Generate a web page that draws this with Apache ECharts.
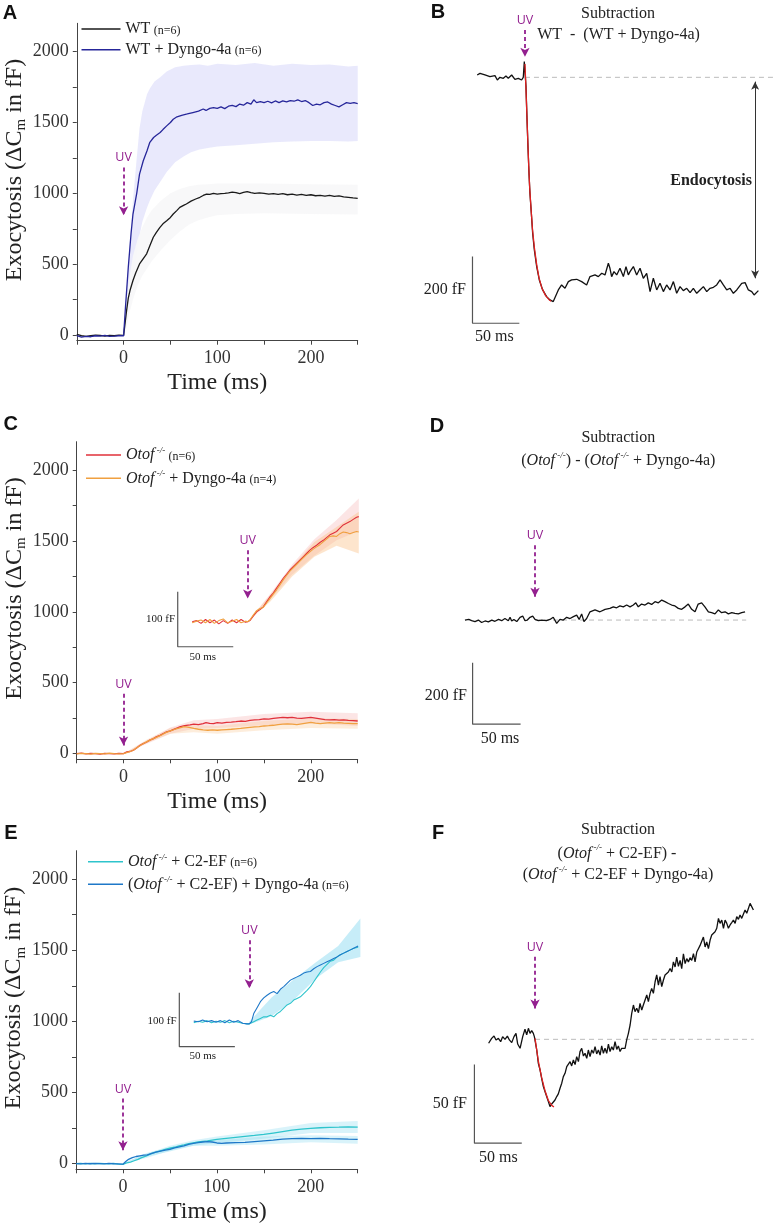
<!DOCTYPE html>
<html><head><meta charset="utf-8">
<script src="https://cdn.jsdelivr.net/npm/echarts@6/dist/echarts.min.js"></script>
<style>html,body{margin:0;padding:0;background:#fff}#c{width:777px;height:1225px}</style>
</head><body><div id="c"></div>
<script>
// ================= DATA =================
// Axis ticks / labels for the main panels (A, C, E)
const timeTicks = [-50, 0, 50, 100, 150, 200, 250];
const timeLabels = [0, 100, 200];
const capTicks = [0, 250, 500, 750, 1000, 1250, 1500, 1750, 2000];
const capLabels = [0, 500, 1000, 1500, 2000];

// Panel A : [time ms, ΔCm fF]
const wtMean = [[-50,5],[-45,-5],[-40,-10],[-35,-5],[-30,0],[-25,-3],[-20,-8],[-15,-2],[-10,-5],[-5,0],[0,-3],[1.5,80],[3.2,174],[5,260],[6.8,314],[10,385],[13,440],[17,502],[21,540],[24.6,573],[28,630],[31.7,690],[35,725],[38.8,760],[42,785],[46,807],[50,830],[53,854],[57,880],[60,901],[64,915],[67,925],[72,945],[77,960],[81.5,972],[85,985],[88.6,995],[92,992],[96,1000],[100,995],[104,998],[108,1000],[112,1003],[116,1008],[120,1005],[124,998],[128,1006],[132,1012],[136,1005],[140,1000],[145,1003],[150,1000],[155,995],[160,998],[165,993],[170,998],[175,990],[180,995],[185,988],[190,992],[195,985],[200,990],[205,983],[210,985],[215,980],[220,985],[225,978],[230,982],[235,975],[240,972],[245,968],[250,965]];
const wtDyngoMean = [[-50,-5],[-45,-15],[-40,-10],[-35,-12],[-30,-5],[-25,-8],[-20,-3],[-15,-10],[-10,-8],[-5,-5],[0,-5],[2,200],[5,479],[8,720],[10,854],[14,1000],[17,1136],[21,1230],[25,1300],[28,1360],[32,1394],[35,1410],[39,1429],[42,1450],[46,1476],[50,1500],[53,1523],[57,1540],[62,1551],[68,1560],[74,1570],[80,1580],[85,1595],[88,1585],[92,1600],[96,1605],[100,1600],[104,1610],[108,1598],[112,1615],[116,1620],[120,1612],[124,1630],[128,1622],[132,1640],[136,1630],[139,1660],[142,1640],[146,1648],[150,1640],[154,1650],[158,1638],[162,1652],[166,1640],[170,1652],[174,1645],[178,1655],[182,1650],[186,1660],[190,1648],[194,1655],[198,1640],[202,1620],[206,1630],[210,1625],[214,1640],[218,1645],[222,1630],[226,1620],[230,1610],[234,1625],[238,1640],[242,1635],[246,1640],[250,1633]];
const wtDyngoBandT  = [0,3,6,10,14,17,20,25,28,33,39,46,55,64,72,81,90,100,120,140,160,180,200,220,240,250];
const wtDyngoBandHi = [0,300,600,950,1250,1460,1580,1700,1740,1790,1820,1860,1890,1900,1905,1910,1900,1915,1905,1920,1900,1915,1905,1910,1895,1900];
const wtDyngoBandLo = [0,80,180,350,550,700,800,900,950,1020,1080,1150,1220,1260,1290,1310,1320,1330,1340,1350,1360,1365,1370,1370,1365,1370];
const wtBandT  = [0,3,6,10,15,20,25,30,40,50,60,70,80,90,100,120,150,200,250];
const wtBandHi = [0,250,400,560,680,760,830,880,950,1000,1030,1050,1060,1065,1070,1070,1070,1065,1060];
const wtBandLo = [0,50,150,250,350,420,470,520,600,670,730,780,810,830,845,855,860,855,850];

// Panel B : subtraction WT - (WT + Dyngo-4a)
const subB = [[-51,7],[-48,12],[-42.7,7],[-37.4,2],[-32,5],[-29.5,-8],[-26.7,0],[-23.1,-3],[-20.3,4],[-17.8,-3],[-14.2,7],[-10.7,-6],[-7.1,-3],[-3.6,-8],[-1.8,0],[-0.7,47],[0,47],[1.1,-28],[2.1,-118],[3.2,-208],[4.3,-288],[5.3,-348],[6.8,-408],[8.2,-468],[10,-518],[12.5,-568],[15.3,-608],[18.9,-638],[23.1,-658],[26.7,-668],[28.5,-663],[30.2,-673],[32,-668],[35.6,-638],[39.1,-623],[42.7,-633],[46.3,-613],[49.8,-608],[55.2,-606],[60.5,-613],[65.8,-623],[69.4,-598],[74.7,-593],[78.3,-598],[81.9,-588],[85.4,-593],[89,-558],[90.7,-573],[92.5,-598],[95,-583],[97.9,-593],[101.4,-573],[105,-598],[107.8,-568],[110.3,-593],[112.1,-583],[115.7,-568],[119.2,-593],[122.8,-573],[126.3,-603],[129.9,-588],[133.5,-643],[137,-603],[140.6,-638],[144.1,-618],[147.7,-643],[151.2,-623],[154.8,-638],[158.4,-613],[161.9,-648],[165.5,-628],[169,-640],[172.6,-633],[176.2,-646],[179.7,-633],[183.3,-648],[186.8,-638],[190.4,-628],[194,-643],[197.5,-633],[201.1,-630],[204.6,-623],[208.2,-608],[211.7,-623],[215.3,-638],[218.9,-633],[222.4,-648],[226,-638],[231.3,-618],[234.9,-616],[238.4,-638],[242,-643],[244.5,-653],[249.1,-640]];
const fitB = [[0,40],[1,-30],[2,-110],[3,-190],[4,-265],[5,-330],[6.5,-395],[8,-455],[10,-510],[12.5,-562],[15,-602],[18,-632],[22,-655],[26,-668],[28,-672]];
const baseB = [[0,0],[268,0]];

// Panel C : Otof-/- and Otof-/- + Dyngo-4a
const otofMean = [[-50,0],[-45,3],[-40,-2],[-35,2],[-30,0],[-25,-3],[-20,2],[-15,0],[-10,-2],[-5,2],[0,0],[3.5,12],[7,15],[10.6,24],[14,40],[17.7,59],[21,70],[24.8,82],[28,95],[32,106],[35,118],[39,129],[42,140],[46,153],[50,160],[53,169],[57,180],[60,188],[64,195],[67,200],[71,203],[75,208],[80,205],[85,212],[88,218],[92,214],[96,212],[100,218],[105,215],[110,220],[115,222],[120,225],[125,230],[130,228],[135,235],[140,238],[145,240],[150,245],[155,243],[160,248],[165,252],[170,255],[175,253],[180,255],[185,250],[190,248],[195,252],[200,255],[205,250],[210,245],[215,240],[220,238],[225,240],[230,236],[235,238],[240,235],[245,233],[250,230]];
const otofDyngoMean = [[-50,-2],[-45,2],[-40,0],[-35,-3],[-30,2],[-25,0],[-20,-2],[-15,3],[-10,0],[-5,-2],[0,0],[5,10],[10,22],[15,45],[20,66],[25,85],[30,100],[35,115],[40,130],[45,148],[50,160],[55,172],[60,182],[65,190],[70,185],[75,178],[80,172],[85,168],[90,165],[95,168],[100,165],[105,168],[110,170],[115,172],[120,175],[125,178],[130,182],[135,185],[140,188],[145,190],[150,195],[155,197],[160,200],[165,205],[170,208],[175,210],[180,208],[185,205],[190,210],[195,215],[200,220],[205,215],[210,212],[215,215],[220,218],[225,215],[230,218],[235,215],[240,214],[245,212],[250,212]];
const otofBandT  = [0,25,50,75,100,150,200,250];
const otofBandHi = [0,95,185,235,245,280,295,285];
const otofBandLo = [0,70,140,175,180,200,215,195];
const otofDyngoBandHi = [0,100,180,200,195,230,250,245];
const otofDyngoBandLo = [0,75,140,150,140,165,180,175];
// Panel C inset (first 100 ms, expanded)
const otofInset = [[-50,0],[-46,2],[-42,-3],[-38,4],[-34,-2],[-30,3],[-26,-4],[-22,2],[-18,-3],[-14,3],[-10,-2],[-6,4],[-2,-1],[0,0],[2,2],[5,10],[8,18],[11,22],[14,27],[17,36],[20,45],[23,52],[26,61],[29,70],[32,79],[35,86],[38,94],[41,100],[44,106],[47,112],[50,118],[53,124],[56,130],[59,135],[62,139],[65,144],[68,148],[71,153],[74,158],[77,161],[80,164],[83,170],[86,176],[89,179],[92,182],[95,186],[98,190],[100,191]];
const otofDyngoInset = [[-50,-2],[-46,1],[-42,3],[-38,-2],[-34,4],[-30,-3],[-26,2],[-22,5],[-18,-2],[-14,1],[-10,4],[-6,-2],[-2,1],[0,0],[2,3],[5,12],[8,20],[11,24],[14,26],[17,34],[20,42],[23,50],[26,58],[29,67],[32,76],[35,84],[38,92],[41,98],[44,104],[47,110],[50,116],[53,122],[56,127],[59,132],[62,136],[65,140],[68,145],[71,150],[74,155],[77,156],[80,155],[83,160],[86,163],[89,162],[92,160],[95,162],[98,164],[100,163]];
const insetBandT = [0,20,40,60,80,100];
const otofInsetBandHi = [0,50,104,150,185,224];
const otofInsetBandLo = [0,40,86,120,148,165];
const otofDyngoInsetBandHi = [0,48,100,145,172,200];
const otofDyngoInsetBandLo = [0,36,82,118,138,124];

// Panel D : subtraction Otof-/- - (Otof-/- + Dyngo-4a)
const subD = [[-73,0],[-69,2],[-66,-2],[-62.5,-5],[-59,0],[-55.6,-8],[-52,-3],[-48.6,-6],[-45,0],[-41.7,-4],[-38,2],[-34.7,-2],[-31.3,5],[-27.8,-2],[-26,9],[-24.3,-3],[-22,2],[-19,-5],[-15.6,9],[-12.8,13],[-10.4,-2],[-8,0],[-5.2,9],[-2.4,13],[0,2],[3.5,-2],[7,0],[12,-2],[15.6,2],[19,9],[22.6,-11],[26,2],[29.5,0],[33,9],[36.5,5],[40,11],[43.4,16],[46,2],[48.6,20],[51,-5],[53.8,5],[57.3,27],[62.5,33],[67.7,27],[73,35],[78,38],[81.6,43],[85,40],[88.5,46],[92,43],[95.5,49],[99,43],[102.4,49],[105,56],[107.6,43],[111,52],[114.6,49],[118,56],[121.5,51],[125,60],[128.5,56],[132,65],[135.4,60],[139,54],[142.4,49],[145.8,46],[149.3,38],[152.8,35],[156.3,43],[159.7,52],[163.2,35],[166.7,27],[170,52],[173.6,56],[177,43],[180.6,27],[184,24],[187.5,20],[191,33],[194.4,24],[198,27],[201.4,20],[205,24],[208.3,22],[211.8,20],[215.3,24],[218.8,27]];
const baseD = [[0,0],[220,0]];

// Panel E : Otof-/- + C2-EF and (Otof-/- + C2-EF) + Dyngo-4a
const c2Mean = [[-50,0],[-45,2],[-40,-2],[-35,1],[-30,-1],[-25,2],[-20,0],[-15,-2],[-10,1],[-5,-3],[0,-5],[4,5],[8,10],[12,20],[16,30],[20,42],[25,55],[30,70],[35,80],[40,90],[45,100],[50,108],[55,115],[60,125],[65,132],[70,140],[75,146],[80,152],[85,156],[90,160],[95,165],[100,170],[110,178],[120,185],[130,192],[140,198],[150,205],[160,215],[170,225],[180,235],[190,242],[200,248],[210,252],[220,255],[230,256],[240,258],[250,256]];
const c2DyngoMean = [[-50,0],[-45,-2],[-40,1],[-35,-1],[-30,2],[-25,0],[-20,-2],[-15,1],[-10,-1],[-5,-2],[0,-4],[3,15],[6,30],[10,42],[14,50],[18,55],[22,60],[26,62],[30,70],[35,80],[40,88],[45,95],[50,100],[55,110],[60,118],[65,125],[70,135],[75,142],[80,148],[85,152],[90,155],[95,152],[100,145],[105,142],[110,145],[120,148],[130,150],[140,155],[150,160],[160,165],[170,172],[180,176],[190,178],[200,176],[210,177],[220,175],[230,174],[240,172],[250,171]];
const c2BandT  = [0,25,50,75,100,150,200,250];
const c2BandHi = [0,70,125,165,190,235,285,300];
const c2BandLo = [0,40,90,125,145,175,215,215];
const c2DyngoBandHi = [0,75,115,150,165,190,200,195];
const c2DyngoBandLo = [0,50,85,125,125,135,150,140];
// Panel E inset
const c2DyngoInset = [[-50,1],[-46,0],[-42,3],[-38,0],[-34,2],[-30,-1],[-26,2],[-22,-2],[-18,3],[-14,-1],[-10,2],[-6,-3],[-2,-4],[0,-4],[2,0],[4,15],[7,26],[10,37],[13,44],[16,49],[19,53],[22,56],[25,52],[28,60],[31,65],[34,71],[37,77],[40,80],[43,83],[46,86],[49,90],[52,92],[55,93],[58,98],[61,102],[64,105],[67,108],[70,111],[73,114],[76,117],[79,120],[82,124],[85,127],[88,130],[91,133],[94,136],[98,140]];
const c2Inset = [[-50,-2],[-46,1],[-42,-1],[-38,2],[-34,-2],[-30,1],[-26,-1],[-22,2],[-18,-2],[-14,1],[-10,-1],[-6,-3],[-2,-4],[0,-4],[4,0],[7,3],[10,6],[13,9],[16,9],[19,12],[22,9],[25,15],[28,19],[31,25],[34,31],[37,34],[40,40],[43,43],[46,46],[49,52],[52,58],[55,65],[58,74],[61,83],[64,92],[67,100],[70,106],[73,112],[76,114],[79,120],[82,124],[85,127],[88,130],[91,133],[94,136],[98,138]];
const c2InsetBandHi = [0,45,78,110,140,191];
const c2InsetBandLo = [-5,10,40,80,110,120];

// Panel F : subtraction (Otof-/- + C2-EF) - (Otof-/- + C2-EF + Dyngo-4a)
const subF = [[-49,-2.5],[-47.5,-1.5],[-45.8,0.6],[-43.3,2.1],[-41.2,-0.4],[-38.7,0.6],[-36.3,-1.5],[-34.2,1.7],[-31.7,0],[-29.2,2.1],[-27.1,-0.4],[-24.6,-2.1],[-22.2,1.7],[-20.1,3.8],[-18.3,-3.0],[-15.8,-5.7],[-13,1.7],[-10.6,6.4],[-8.8,2.8],[-7,7.0],[-5.3,3.8],[-3.5,5.5],[-1.8,3.8],[-0.7,1.7],[0,0.6],[1.8,-6.8],[3.5,-15.3],[5.3,-19.5],[7,-24.8],[8.8,-30.1],[10.6,-33.3],[12.3,-36.4],[14.1,-39.6],[15.8,-42.8],[17.6,-41.1],[19.4,-41.7],[21.1,-38.6],[22.9,-36.4],[24.6,-34.7],[26.4,-31.1],[28.2,-27.9],[29.9,-23.7],[31.7,-21.6],[33.5,-17.4],[35.2,-18.4],[37,-14.2],[38.7,-16.9],[40.5,-13.1],[42.3,-16.1],[44,-11.0],[45.8,-14.2],[47.5,-7.8],[49.3,-5.7],[51.1,-10.6],[52.8,-8.9],[54.6,-12.1],[56.3,-6.8],[58.1,-11.0],[59.9,-6.8],[61.6,-8.9],[63.4,-4.7],[65.1,-9.3],[66.9,-6.8],[68.7,-10.0],[70.4,-4.2],[72.2,-8.9],[73.9,-5.7],[75.7,-8.9],[77.5,-3.0],[79.2,-7.8],[81,-4.7],[82.7,-6.8],[84.5,-1.5],[86.3,-6.4],[88,-4.2],[89.8,-7.8],[91.5,-5.7],[93.3,-6.4],[95.1,-5.7],[96.8,-0.4],[98.6,3.8],[100.4,9.1],[102.1,16.5],[103.9,21.8],[105.6,17.6],[107.4,19.7],[109.2,16.9],[110.9,22.9],[112.7,18.6],[114.4,21.8],[116.2,25.0],[118,28.2],[119.7,23.9],[121.5,29.2],[123.2,32.4],[125,29.2],[126.8,36.6],[128.5,40.9],[130.3,34.5],[132,39.8],[133.8,33.5],[135.6,37.7],[137.3,40.9],[139.1,40.0],[140.8,42.8],[142.6,45.0],[144.4,42.8],[146.1,49.2],[147.9,46.0],[149.6,52.3],[151.4,46.4],[153.2,50.2],[154.9,44.9],[156.7,54.4],[158.5,48.1],[160.2,51.3],[162,49.2],[163.7,51.9],[165.5,50.2],[167.3,54.4],[169,49.2],[170.8,55.5],[172.5,54.4],[174.3,59.7],[176.1,60.4],[177.8,65.0],[179.6,58.7],[181.3,61.9],[183.1,57.6],[184.9,63.1],[186.6,66.3],[188.4,67.4],[190.1,68.4],[191.9,70.6],[193.7,76.9],[195.4,73.7],[197.2,75.8],[199,70.6],[200.7,75.8],[202.5,73.7],[204.2,70.6],[206,72.7],[207.7,74.2],[209.5,75.8],[211.3,73.7],[213,78.0],[214.8,76.3],[216.5,79.0],[218.3,76.9],[220.1,78.0],[221.8,82.2],[223.6,80.1],[225.4,83.3],[227.1,86.4],[228.9,87.5],[230.6,82.2]];
const fitF = [[0,0.6],[3.5,-13.8],[7,-24.4],[10.6,-32.8],[14.1,-38.9],[17.6,-42.0],[20,-43]];
const baseF = [[0,0],[231,0]];

// Scale bars: [time, fF] polyline (vertical then horizontal)
const scaleB = [[-56,-538],[-56,-738],[-6,-738]];
const scaleD = [[-65,-139],[-65,-339],[-15,-339]];
const scaleF = [[-64,-16],[-64,-66],[-14,-66]];
const scaleCi = [[-63,54.5],[-63,-45.5],[-13,-45.5]];
const scaleEi = [[-63,53.7],[-63,-46.3],[-13,-46.3]];

// UV stimulus arrows: [time, arrow top, arrow tip]
const uvA = [0,1183,845], uvB = [0,142,62], uvC = [0,423,58], uvCi = [0,130,42];
const uvD = [0,244,76], uvE = [0,458,94], uvEi = [0,151,62], uvF = [0,52.5,19.6];
// Endocytosis double arrow in B: [time, top, bottom]
const endoB = [245.6,-13,-603];

// ================= STYLE =================
const SERIF = 'Liberation Serif';
const PURPLE = '#93208f';
const AX = '#444';
const C_WT = '#1a1a1a', C_WTD = '#26269a', C_OT = '#e0303a', C_OTD = '#f0a040', C_C2 = '#2ec4cc', C_C2D = '#1e78c8';

const chart = echarts.init(document.getElementById('c'), null, {renderer: 'canvas'});

const gridRects = [
  {left: 76.8, top: 23.3, width: 280.9, height: 317.4},   // 0 A
  {left: 450.0, top: 4.0, width: 326.1, height: 326.6},   // 1 B
  {left: 76.7, top: 441.7, width: 281, height: 317.6},    // 2 C
  {left: 175.5, top: 495.2, width: 185.5, height: 154},   // 3 C inset
  {left: 448.6, top: 521.8, width: 307.2, height: 208.8}, // 4 D
  {left: 76, top: 850.7, width: 281.7, height: 318.6},    // 5 E
  {left: 177.1, top: 897.5, width: 185.5, height: 151.2}, // 6 E inset
  {left: 449.8, top: 882.0, width: 312.5, height: 275.3}  // 7 F
];
const grid = gridRects.map(r => Object.assign({containLabel: false, outerBoundsMode: 'none', show: false}, r));

const yName = '{a|Exocytosis (ΔC}{s|m}{a| in fF)}';
function mainX(gi) {
  return {gridIndex: gi, type: 'value', min: -50, max: 250,
    axisLine: {show: true, onZero: false, lineStyle: {color: AX, width: 1}},
    axisTick: {show: true, inside: false, length: 4, customValues: timeTicks, lineStyle: {color: AX}},
    axisLabel: {show: true, customValues: timeLabels, formatter: v => String(v), margin: 9, color: '#333', fontFamily: SERIF, fontSize: 18},
    splitLine: {show: false},
    name: 'Time (ms)', nameLocation: 'middle', nameGap: 30,
    nameTextStyle: {fontFamily: SERIF, fontSize: 24, color: '#222'}};
}
function mainY(gi) {
  return {gridIndex: gi, type: 'value', min: -40, max: 2200,
    axisLine: {show: true, onZero: false, lineStyle: {color: AX, width: 1}},
    axisTick: {show: true, inside: false, length: 4, customValues: capTicks, lineStyle: {color: AX}},
    axisLabel: {show: true, customValues: capLabels, formatter: v => String(v), margin: 8, color: '#333', fontFamily: SERIF, fontSize: 18},
    splitLine: {show: false},
    name: yName, nameLocation: 'middle', nameGap: 46, nameRotate: 90,
    nameTextStyle: {padding: [0, 0, 0, 24], rich: {
      a: {fontFamily: SERIF, fontSize: 24, color: '#222', lineHeight: 28},
      s: {fontFamily: SERIF, fontSize: 15, color: '#222', lineHeight: 14, verticalAlign: 'bottom'}}}};
}
function hidX(gi, min, max) { return {gridIndex: gi, type: 'value', min: min, max: max, show: false, splitLine: {show: false}}; }
function hidY(gi, min, max) { return {gridIndex: gi, type: 'value', min: min, max: max, show: false, splitLine: {show: false}}; }

const xAxis = [mainX(0), hidX(1, -80, 268), mainX(2), hidX(3, -65, 102), hidX(4, -90, 230), mainX(5), hidX(6, -65, 102), hidX(7, -90, 240)];
const yAxis = [mainY(0), hidY(1, -760, 220), mainY(2), hidY(3, -50, 230), hidY(4, -360, 320), mainY(5), hidY(6, -50, 230), hidY(7, -75, 100)];

function line(gi, name, data, color, width, extra) {
  return Object.assign({type: 'line', name: name, xAxisIndex: gi, yAxisIndex: gi, data: data,
    showSymbol: false, symbol: 'none', smooth: false, animation: false, silent: true, z: 3,
    lineStyle: {color: color, width: width}, itemStyle: {color: color}}, extra || {});
}
function band(gi, t, lo, hi, color) {
  return {type: 'custom', xAxisIndex: gi, yAxisIndex: gi, silent: true, animation: false, z: 1,
    data: [[t[0], lo[0]]],
    renderItem: function (params, api) {
      const pts = [];
      for (let i = 0; i < t.length; i++) pts.push(api.coord([t[i], hi[i]]));
      for (let i = t.length - 1; i >= 0; i--) pts.push(api.coord([t[i], lo[i]]));
      return {type: 'polygon', shape: {points: pts}, style: {fill: color}};
    }};
}
function uv(a) {
  return {silent: true, animation: false, symbol: ['none', 'arrow'], symbolSize: [7, 9],
    lineStyle: {color: PURPLE, width: 1.8, type: [4, 3]},
    label: {show: true, position: 'start', formatter: 'UV', color: PURPLE, fontFamily: 'Open Sans', fontSize: 12.5, distance: 3},
    emphasis: {disabled: true},
    data: [[{coord: [a[0], a[1]]}, {coord: [a[0], a[2]]}]]};
}
function scaleBar(gi, data) { return line(gi, 'scale' + gi, data, '#555', 1.2); }
function dashed(gi, data, extra) {
  return line(gi, 'base' + gi, data, '#bbb', 1, Object.assign({lineStyle: {color: '#bbb', width: 1, type: [5, 4]}, z: 2}, extra || {}));
}

const series = [
  // A
  band(0, wtDyngoBandT, wtDyngoBandLo, wtDyngoBandHi, 'rgba(232,232,252,0.95)'),
  band(0, wtBandT, wtBandLo, wtBandHi, 'rgba(247,247,248,0.92)'),
  line(0, 'WT', wtMean, C_WT, 1.3),
  line(0, 'WT + Dyngo-4a', wtDyngoMean, C_WTD, 1.3, {markLine: uv(uvA)}),
  // B
  dashed(1, baseB, {markLine: {silent: true, animation: false, symbol: ['arrow', 'arrow'], symbolSize: [6, 8],
    lineStyle: {color: '#333', width: 1, type: 'solid'}, label: {show: false}, emphasis: {disabled: true},
    data: [[{coord: [endoB[0], endoB[1]]}, {coord: [endoB[0], endoB[2]]}]]}}),
  line(1, 'subB', subB, '#111', 1.3, {markLine: uv(uvB)}),
  line(1, 'fitB', fitB, '#e02020', 1.3),
  scaleBar(1, scaleB),
  // C
  band(2, otofBandT, otofBandLo, otofBandHi, 'rgba(245,170,170,0.3)'),
  band(2, otofBandT, otofDyngoBandLo, otofDyngoBandHi, 'rgba(250,195,140,0.3)'),
  line(2, 'Otof', otofMean, C_OT, 1.3),
  line(2, 'Otof + Dyngo-4a', otofDyngoMean, C_OTD, 1.3, {markLine: uv(uvC)}),
  // C inset
  band(3, insetBandT, otofInsetBandLo, otofInsetBandHi, 'rgba(245,170,170,0.3)'),
  band(3, insetBandT, otofDyngoInsetBandLo, otofDyngoInsetBandHi, 'rgba(250,190,130,0.4)'),
  line(3, 'Otof inset', otofInset, C_OT, 1.1),
  line(3, 'Otof + Dyngo-4a inset', otofDyngoInset, C_OTD, 1.1, {markLine: uv(uvCi)}),
  scaleBar(3, scaleCi),
  // D
  dashed(4, baseD),
  line(4, 'subD', subD, '#111', 1.3, {markLine: uv(uvD)}),
  scaleBar(4, scaleD),
  // E
  band(5, c2BandT, c2BandLo, c2BandHi, 'rgba(130,215,240,0.3)'),
  band(5, c2BandT, c2DyngoBandLo, c2DyngoBandHi, 'rgba(130,215,240,0.3)'),
  line(5, 'Otof + C2-EF', c2Mean, C_C2, 1.3),
  line(5, '(Otof + C2-EF) + Dyngo-4a', c2DyngoMean, C_C2D, 1.3, {markLine: uv(uvE)}),
  // E inset
  band(6, insetBandT, c2InsetBandLo, c2InsetBandHi, 'rgba(130,215,240,0.45)'),
  line(6, 'C2 inset', c2Inset, C_C2, 1.1),
  line(6, 'C2 Dyngo inset', c2DyngoInset, C_C2D, 1.1, {markLine: uv(uvEi)}),
  scaleBar(6, scaleEi),
  // F
  dashed(7, baseF),
  line(7, 'subF', subF, '#111', 1.3, {markLine: uv(uvF)}),
  line(7, 'fitF', fitF, '#e02020', 1.3),
  scaleBar(7, scaleF)
];

// ---- legends ----
const legendRich = {
  t: {fontFamily: SERIF, fontSize: 16, color: '#222', lineHeight: 18},
  i: {fontFamily: SERIF, fontSize: 16, fontStyle: 'italic', color: '#222', lineHeight: 18},
  s: {fontFamily: SERIF, fontSize: 9, fontStyle: 'italic', color: '#222', lineHeight: 9, verticalAlign: 'top'},
  n: {fontFamily: SERIF, fontSize: 12, color: '#222', lineHeight: 15, padding: [3, 0, 0, 0]}
};
const legendText = {
  'WT': '{t|WT} {n|(n=6)}',
  'WT + Dyngo-4a': '{t|WT + Dyngo-4a} {n|(n=6)}',
  'Otof': '{i|Otof}{s| -/-} {n|(n=6)}',
  'Otof + Dyngo-4a': '{i|Otof}{s| -/-}{t| + Dyngo-4a} {n|(n=4)}',
  'Otof + C2-EF': '{i|Otof}{s| -/-}{t| + C2-EF} {n|(n=6)}',
  '(Otof + C2-EF) + Dyngo-4a': '{t|(}{i|Otof}{s| -/-}{t| + C2-EF) + Dyngo-4a} {n|(n=6)}'
};
function legend(names, left, top, w, gap) {
  return {show: true, orient: 'vertical', left: left, top: top, itemWidth: w, itemHeight: 1.6, itemGap: gap,
    icon: 'rect', selectedMode: false, padding: 0, data: names,
    formatter: n => legendText[n], textStyle: {rich: legendRich, lineHeight: 18}};
}
const legends = [
  legend(['WT', 'WT + Dyngo-4a'], 81.5, 20, 39, 2.7),
  legend(['Otof', 'Otof + Dyngo-4a'], 86, 446, 35, 5.3),
  legend(['Otof + C2-EF', '(Otof + C2-EF) + Dyngo-4a'], 88, 852.7, 35, 4.6)
];

// ---- text annotations ----
const tRich = {
  t: {fontFamily: SERIF, fontSize: 16, color: '#222', lineHeight: 20},
  i: {fontFamily: SERIF, fontSize: 16, fontStyle: 'italic', color: '#222', lineHeight: 20},
  s: {fontFamily: SERIF, fontSize: 9, fontStyle: 'italic', color: '#222', lineHeight: 10, verticalAlign: 'top'},
  b: {fontFamily: SERIF, fontSize: 16, fontWeight: 'bold', color: '#111', lineHeight: 20},
  sm: {fontFamily: SERIF, fontSize: 11, color: '#222', lineHeight: 14}
};
function txt(x, y, text, align) {
  return {type: 'text', x: x, y: y, silent: true, z: 100,
    style: {text: text, rich: tRich, align: align || 'center', verticalAlign: 'middle',
      textAlign: align || 'center', textVerticalAlign: 'middle', fill: '#222'}};
}
function letter(x, y, s) {
  return {type: 'text', x: x, y: y, silent: true, z: 100,
    style: {text: s, fontFamily: 'Liberation Sans', fontWeight: 'bold', fontSize: 20, fill: '#111',
      align: 'center', verticalAlign: 'middle', textAlign: 'center', textVerticalAlign: 'middle'}};
}
const graphics = [
  letter(10, 13.7, 'A'), letter(438, 12.5, 'B'), letter(10.8, 424.5, 'C'),
  letter(437, 426, 'D'), letter(10.8, 833, 'E'), letter(438, 833, 'F'),
  // B
  txt(618, 13.3, '{t|Subtraction}'),
  txt(618.5, 34.3, '{t|WT  -  (WT + Dyngo-4a)}'),
  txt(752, 180.7, '{b|Endocytosis}', 'right'),
  txt(466, 290, '{t|200 fF}', 'right'),
  txt(494.3, 336.7, '{t|50 ms}'),
  // C inset
  txt(175, 619.3, '{sm|100 fF}', 'right'),
  txt(202.7, 656.7, '{sm|50 ms}'),
  // D
  txt(618.3, 437.7, '{t|Subtraction}'),
  txt(618.3, 461, '{t|(}{i|Otof}{s| -/-}{t|) - (}{i|Otof}{s| -/-}{t| + Dyngo-4a)}'),
  txt(467, 696, '{t|200 fF}', 'right'),
  txt(500, 738.3, '{t|50 ms}'),
  // E inset
  txt(176.5, 1020.7, '{sm|100 fF}', 'right'),
  txt(202.7, 1056, '{sm|50 ms}'),
  // F
  txt(618, 829.3, '{t|Subtraction}'),
  txt(617, 853.3, '{t|(}{i|Otof}{s| -/-}{t| + C2-EF) -}'),
  txt(618, 875, '{t|(}{i|Otof}{s| -/-}{t| + C2-EF + Dyngo-4a)}'),
  txt(467, 1104, '{t|50 fF}', 'right'),
  txt(498.3, 1157.3, '{t|50 ms}')
];

chart.setOption({
  animation: false,
  backgroundColor: '#ffffff',
  grid: grid,
  xAxis: xAxis,
  yAxis: yAxis,
  legend: legends,
  series: series,
  graphic: {elements: graphics}
});
</script>
</body></html>
